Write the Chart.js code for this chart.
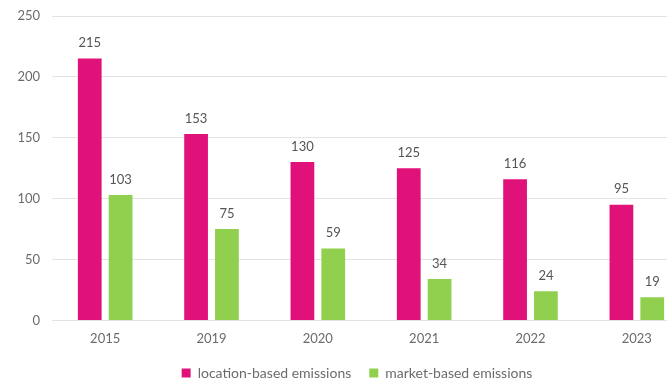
<!DOCTYPE html>
<html>
<head>
<meta charset="utf-8">
<script src="https://cdn.jsdelivr.net/npm/chart.js@4.4.1/dist/chart.umd.min.js"></script>
<style>
  html, body { margin: 0; padding: 0; background: #fff; overflow: hidden; }
  #wrap { width: 690px; height: 379px; }
</style>
</head>
<body>
<div id="wrap"><canvas id="emissionsChart" width="690" height="379"></canvas></div>
<script>
const years = ["2015", "2019", "2020", "2021", "2022", "2023"];
const locationBased = [215, 153, 130, 125, 116, 95];
const marketBased = [103, 75, 59, 34, 24, 19];
const yTicks = [0, 50, 100, 150, 200, 250];

const PINK = "#e0127a";
const GREEN = "#91d04f";
const TEXT = "#6b6b6b";

/* ========================================
   VALUE LABELS ABOVE BARS
======================================== */
const barValues = {
  id: "barValues",
  afterDatasetsDraw(chart) {
    const ctx = chart.ctx;
    ctx.save();
    ctx.font = "13px Lato";
    ctx.fillStyle = "#555";
    ctx.textAlign = "center";
    ctx.textBaseline = "bottom";
    chart.data.datasets.forEach((ds, i) => {
      chart.getDatasetMeta(i).data.forEach((bar, j) => {
        ctx.fillText(ds.data[j], bar.x, bar.y - 9);
      });
    });
    ctx.restore();
  }
};

/* legend sits a little right of centre and a bit higher */
const legendShift = {
  id: "legendShift",
  afterLayout(chart) {
    const lg = chart.legend;
    if (!lg) return;
    lg.left += 12;
    lg.right += 12;
    lg.top -= 10;
    lg.bottom -= 10;
  }
};

new Chart(document.getElementById("emissionsChart"), {
  type: "bar",
  data: {
    labels: years,
    datasets: [
      {
        label: "location-based emissions",
        data: locationBased,
        backgroundColor: PINK
      },
      {
        label: "market-based emissions",
        data: marketBased,
        backgroundColor: GREEN
      }
    ]
  },
  options: {
    responsive: false,
    animation: false,
    layout: { padding: { left: 0, top: 16, right: 0, bottom: -21 } },
    datasets: {
      bar: { categoryPercentage: 0.58, barPercentage: 0.77 }
    },
    plugins: {
      tooltip: { enabled: false },
      legend: {
        position: "bottom",
        labels: {
          boxWidth: 9,
          boxHeight: 9,
          padding: 18,
          color: TEXT,
          font: { family: "Lato", size: 14 }
        }
      }
    },
    scales: {
      x: {
        grid: { display: false, drawTicks: false },
        border: { display: false },
        ticks: { color: TEXT, padding: 11, font: { family: "Lato", size: 13 } }
      },
      y: {
        min: 0,
        max: 250,
        afterFit: axis => {
          axis.width = 52;
          axis.paddingTop = 0;
          axis.paddingBottom = 0;
        },
        afterBuildTicks: axis => { axis.ticks = yTicks.map(v => ({ value: v })); },
        grid: { color: "#e3e3e3", drawTicks: false },
        border: { display: false },
        ticks: { color: TEXT, padding: 12, font: { family: "Lato", size: 13 } }
      }
    }
  },
  plugins: [barValues, legendShift]
});
</script>
</body>
</html>
